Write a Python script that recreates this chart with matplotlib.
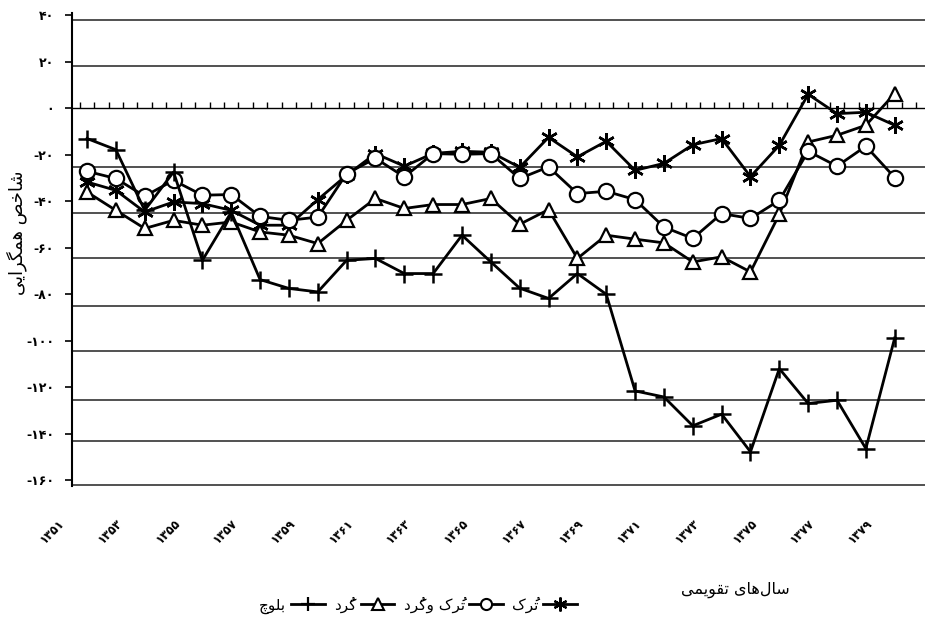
import numpy as np
import matplotlib
matplotlib.use('Agg')
import matplotlib.pyplot as plt
from matplotlib.lines import Line2D

# -------------------------------
# data
# -------------------------------
years = list(range(1351, 1380))
turk = [-31.7, -35.3, -44.6, -40.3, -41.0, -43.9, -50.3, -50.3, -39.3, -28.8,
        -19.5, -24.9, -19.4, -18.5, -18.9, -25.4, -12.5, -20.9, -14.2, -26.7,
        -23.7, -15.7, -13.0, -29.4, -15.9, 6.0, -2.3, -1.7, -7.3]
turk_kurd = [-27.1, -30.2, -37.8, -31.0, -37.4, -37.1, -46.5, -48.2, -46.8, -28.1,
             -21.5, -29.5, -19.5, -19.8, -19.5, -30.2, -25.2, -36.7, -35.7, -39.3,
             -51.1, -56.0, -45.3, -47.4, -39.6, -18.5, -24.9, -16.3, -29.8]
kurd = [-36.0, -43.9, -51.7, -48.2, -50.3, -48.9, -53.2, -54.6, -58.2, -48.2,
        -38.8, -43.1, -41.4, -41.4, -38.8, -49.9, -43.6, -64.6, -54.6, -56.3,
        -57.9, -66.1, -63.9, -70.4, -45.6, -14.5, -11.6, -7.3, 6.3]
baluch = [-13.0, -17.8, -43.9, -27.4, -65.4, -44.7, -73.7, -77.5, -79.0, -65.4,
          -64.6, -71.1, -71.1, -54.6, -66.1, -77.4, -81.8, -71.1, -80.0, -121.6,
          -124.2, -136.6, -131.6, -147.8, -112.0, -127.0, -125.6, -146.4, -98.8]

y_ticks = [40, 20, 0, -20, -40, -60, -80, -100, -120, -140, -160]
x_ticks = list(range(1351, 1380, 2))

name_baluch = 'بلوچ'
name_kurd = 'کُرد'
name_turk_kurd = 'تُرک وکُرد'
name_turk = 'تُرک'
y_title = 'شاخص همگرایی'
x_title = 'سال‌های تقویمی'

# -------------------------------
# persian text helpers (no shaping engine in matplotlib)
# -------------------------------
FORMS = {  # isolated, final, initial, medial
    'ا': ('\uFE8D', '\uFE8E', None, None),
    'ب': ('\uFE8F', '\uFE90', '\uFE91', '\uFE92'),
    'ت': ('\uFE95', '\uFE96', '\uFE97', '\uFE98'),
    'خ': ('\uFEA5', '\uFEA6', '\uFEA7', '\uFEA8'),
    'د': ('\uFEA9', '\uFEAA', None, None),
    'ر': ('\uFEAD', '\uFEAE', None, None),
    'س': ('\uFEB1', '\uFEB2', '\uFEB3', '\uFEB4'),
    'ش': ('\uFEB5', '\uFEB6', '\uFEB7', '\uFEB8'),
    'ص': ('\uFEB9', '\uFEBA', '\uFEBB', '\uFEBC'),
    'ق': ('\uFED5', '\uFED6', '\uFED7', '\uFED8'),
    'ل': ('\uFEDD', '\uFEDE', '\uFEDF', '\uFEE0'),
    'م': ('\uFEE1', '\uFEE2', '\uFEE3', '\uFEE4'),
    'ه': ('\uFEE9', '\uFEEA', '\uFEEB', '\uFEEC'),
    'و': ('\uFEED', '\uFEEE', None, None),
    'ی': ('\uFBFC', '\uFBFD', '\uFBFE', '\uFBFF'),
    'ک': ('\uFB8E', '\uFB8F', '\uFB90', '\uFB91'),
    'گ': ('\uFB92', '\uFB93', '\uFB94', '\uFB95'),
    'چ': ('\uFB7A', '\uFB7B', '\uFB7C', '\uFB7D'),
}
MARK = '\u064F'


def fa(s):
    chars = list(s)
    shaped = []
    for i, c in enumerate(chars):
        if c not in FORMS:
            shaped.append(c)
            continue
        j = i - 1
        while j >= 0 and chars[j] == MARK:
            j -= 1
        k = i + 1
        while k < len(chars) and chars[k] == MARK:
            k += 1
        prev = chars[j] if j >= 0 else ''
        nxt = chars[k] if k < len(chars) else ''
        before = prev in FORMS and FORMS[prev][2] is not None
        after = FORMS[c][2] is not None and nxt in FORMS
        f = FORMS[c]
        if before and after:
            shaped.append(f[3])
        elif before:
            shaped.append(f[1])
        elif after:
            shaped.append(f[2])
        else:
            shaped.append(f[0])
    # right to left -> visual order, the damma goes just before its letter
    clusters = []
    for c in shaped:
        if c == MARK and clusters:
            clusters[-1] = c + clusters[-1]
        else:
            clusters.append(c)
    return ''.join(reversed(clusters)).replace('\u200c', '')


def fa_num(v):
    return str(v).translate(str.maketrans('0123456789', '۰۱۲۳۴۵۶۷۸۹'))


plt.rcParams['font.family'] = ['DejaVu Sans']

fig = plt.figure(figsize=(9.28, 6.21), dpi=100)
ax = fig.add_axes([72 / 928, 1 - 486 / 621, 853 / 928, 473 / 621])
ax.set_xlim(1350.48, 1380.05)
ax.set_ylim(-162.5, 41)

# horizontal rules as printed (they sit a little off the tick marks)
for gy in [37.8, 18.1, -25.4, -45.2, -64.5, -85.2, -104.5, -125.6, -143.2, -162.2]:
    ax.axhline(gy, color='#222222', lw=1.1, zorder=1)
ax.axhline(0, color='black', lw=1.0, zorder=1)
zt = np.arange(1350.75, 1380, 0.5)
ax.plot(zt, np.zeros(len(zt)), ls='none', marker=2, ms=4, mew=1.0,
        color='black', zorder=1)

lw = 2.0
ax.plot(years, turk, color='black', lw=lw, marker=(6, 2, 0), ms=12, mew=1.8,
        zorder=3)
ax.plot(years, kurd, color='black', lw=lw, marker='^', ms=10, mfc='white',
        mew=1.6, zorder=4)
ax.plot(years, turk_kurd, color='black', lw=lw, marker='o', ms=11, mfc='white',
        mew=1.6, zorder=5)
ax.plot(years, baluch, color='black', lw=lw, marker='+', ms=13, mew=1.8,
        zorder=6)

for s in ['top', 'right', 'bottom']:
    ax.spines[s].set_visible(False)
ax.spines['left'].set_linewidth(1.5)

ax.set_yticks(y_ticks)
ax.set_yticklabels([('-' if v < 0 else '') + fa_num(abs(v)) for v in y_ticks],
                   fontsize=9, fontweight='bold')
ax.tick_params(axis='y', length=5, width=1.2, pad=8)
ax.set_xticks(x_ticks)
ax.set_xticklabels([fa_num(v) for v in x_ticks], rotation=45, ha='right',
                   va='top', fontsize=8.5, fontweight='bold')
ax.tick_params(axis='x', length=0, pad=22)
for t in ax.get_xticklabels():
    t.set_transform(t.get_transform() + matplotlib.transforms.ScaledTranslation(
        -20 / 100, 0, fig.dpi_scale_trans))

fig.text(17 / 928, 1 - 233 / 621, fa(y_title), rotation=90, ha='center',
         va='center', fontsize=13)
fig.text(735 / 928, 1 - 590 / 621, fa(x_title), ha='center', va='center',
         fontsize=11.5)

handles = [
    Line2D([], [], color='black', lw=2, marker='+', ms=10, mew=1.6),
    Line2D([], [], color='black', lw=2, marker='^', ms=8, mfc='white', mew=1.5),
    Line2D([], [], color='black', lw=2, marker='o', ms=8, mfc='white', mew=1.5),
    Line2D([], [], color='black', lw=2, marker=(6, 2, 0), ms=10, mew=1.6),
]
labels = [fa(name_baluch), fa(name_kurd), fa(name_turk_kurd), fa(name_turk)]
fig.legend(handles, labels, loc='center', bbox_to_anchor=(418 / 928, 1 - 605 / 621),
           ncol=4, frameon=False, markerfirst=False, fontsize=11,
           handlelength=2.2, columnspacing=0.6, handletextpad=0.3)

plt.savefig('out.png', dpi=100)
